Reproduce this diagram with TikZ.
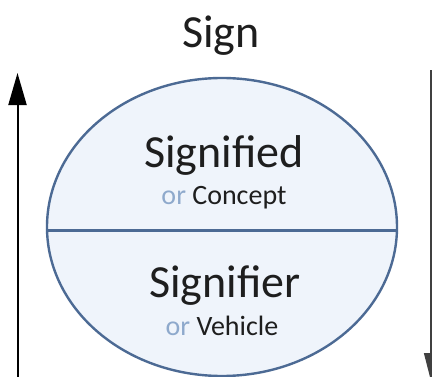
\documentclass[tikz,border=0pt]{standalone}
\usepackage{fontspec}
\setmainfont{Carlito}
\usetikzlibrary{arrows.meta,shapes.geometric}
\definecolor{edgeblue}{HTML}{4C6A94}
\definecolor{fillblue}{HTML}{EFF4FB}
\definecolor{orblue}{HTML}{8EA9CC}
\definecolor{txt}{HTML}{1E1E1E}
\tikzset{
  bigtxt/.style={anchor=base, inner sep=0pt, text=txt, font=\fontsize{46}{50}\selectfont},
  smalltxt/.style={anchor=base, inner sep=0pt, text=txt, font=\fontsize{28}{32}\selectfont},
  arr/.style={-{Triangle[length=32pt,width=18pt]}, line width=2pt, black},
}
\begin{document}
\begin{tikzpicture}[x=1pt,y=1pt]
\useasboundingbox (0,0) rectangle (432,376);
\clip (0,0) rectangle (432,376);
\fill[white] (0,0) rectangle (432,376);
\node[ellipse, draw=edgeblue, fill=fillblue, line width=2.4pt, minimum width=350pt, minimum height=298pt, inner sep=0pt] (sign) at (222,149) {};
\draw[edgeblue, line width=2.4pt] ([yshift=-3.5pt]sign.west) -- ([yshift=-3.5pt]sign.east);
\node[bigtxt] (title) at (221,329) {Sign};
\node[bigtxt] (signified) at (224,209) {Signified};
\node[smalltxt] (concept) at (224,172) {\textcolor{orblue}{or} Concept};
\node[bigtxt] (signifier) at (225,79) {Signifier};
\node[smalltxt] (vehicle) at (222,41) {\textcolor{orblue}{or} Vehicle};
\coordinate (lb) at (17.5,-2);
\coordinate (lt) at (17.5,303);
\coordinate (rt) at (431,306);
\coordinate (rb) at (431,-5);
\draw[arr] (lb) -- (lt);
\draw[-{Triangle[length=28pt,width=14pt]}, line width=1.2pt, black!75] (rt) -- (rb);
\end{tikzpicture}
\end{document}
